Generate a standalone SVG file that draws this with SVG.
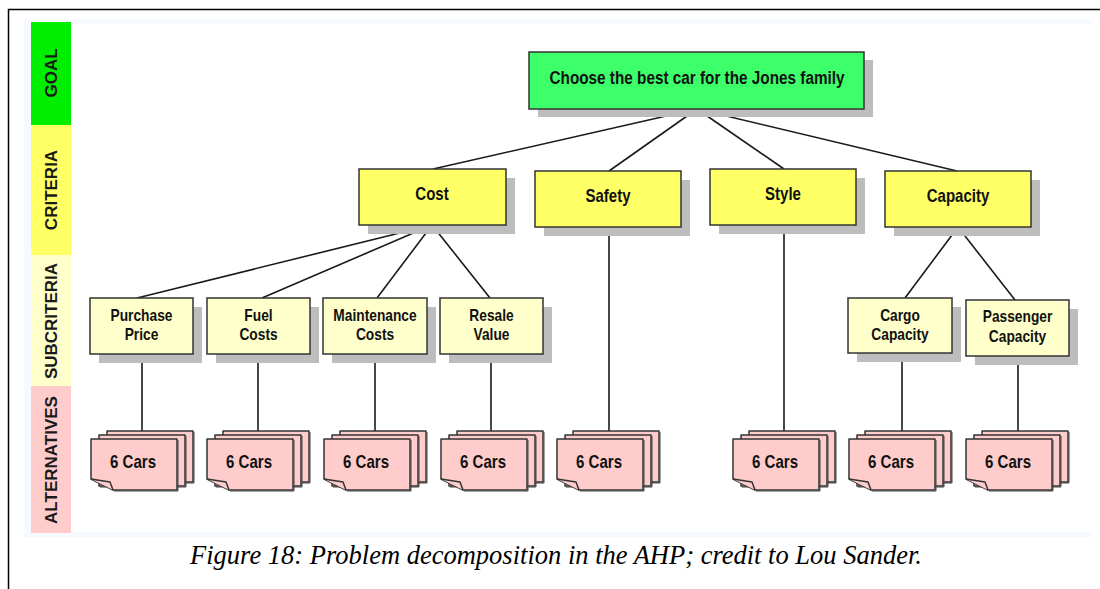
<svg xmlns="http://www.w3.org/2000/svg" xmlns:xlink="http://www.w3.org/1999/xlink" width="1100" height="589" viewBox="0 0 1100 589">
  <style>
    .band-label { font-family: "Liberation Sans", Arial, sans-serif; font-weight: bold; font-size: 17px; fill: #1a1a1a; text-anchor: middle; }
    .lbl { font-family: "Liberation Sans", Arial, sans-serif; font-weight: bold; fill: #111; text-anchor: middle; }
    .l17 { font-size: 17.5px; }
    .l16 { font-size: 16px; }
    .shadow { fill: #bdbdbd; }
    .box { stroke: #333; stroke-width: 1.5; }
    .goal { fill: #3cff6a; }
    .crit { fill: #ffff66; }
    .sub { fill: #ffffcc; }
    .card { fill: #ffcccc; stroke: #333; stroke-width: 1.5; stroke-linejoin: round; }
    .card-edge { fill: none; stroke: #444; stroke-width: 1; }
    .link { stroke: #1a1a1a; stroke-width: 1.6; fill: none; }
    .caption { font-family: "Liberation Serif", "Times New Roman", serif; font-style: italic; font-size: 27px; fill: #000; }
  </style>
  <defs>
    <!-- stack of three alternative cards; origin = top-left of the front card -->
    <g id="stack">
      <rect class="card" x="16" y="-8" width="86" height="51"/>
      <path class="card-edge" d="M103,-7 V44 H17"/>
      <rect class="card" x="8" y="-4" width="86" height="51"/>
      <path class="card-edge" d="M95,-3 V48 H9"/>
      <path class="card" d="M0,0 H86 V51 H22 L0,40 Z"/>
      <path class="card-edge" d="M87,1 V52 H23"/>
      <path class="card" d="M0,40 L19,43 L22,51"/>
    </g>
  </defs>

  <!-- page frame and panel -->
  <rect x="0" y="0" width="1100" height="589" fill="#fff"/>
  <path d="M8.5,589 V9.5 H1100" fill="none" stroke="#000" stroke-width="1.5"/>
  <rect x="24" y="19" width="1068" height="518" fill="#f6f9fd"/>
  <rect x="71" y="24" width="1021" height="508" fill="#fff"/>

  <!-- level bands -->
  <g id="bands">
    <rect x="31" y="22" width="40" height="103" fill="#00ee00"/>
    <rect x="31" y="125" width="40" height="130" fill="#ffff66"/>
    <rect x="31" y="255" width="40" height="131" fill="#ffffcc"/>
    <rect x="31" y="386" width="40" height="147" fill="#ffcccc"/>
    <text class="band-label" transform="translate(57 73) rotate(-90)">GOAL</text>
    <text class="band-label" transform="translate(57 190) rotate(-90)">CRITERIA</text>
    <text class="band-label" transform="translate(57 321) rotate(-90)">SUBCRITERIA</text>
    <text class="band-label" transform="translate(57 460) rotate(-90)">ALTERNATIVES</text>
  </g>

  <!-- connectors -->
  <g id="connectors">
    <line class="link" x1="697" y1="109" x2="433" y2="169"/>
    <line class="link" x1="697" y1="109" x2="609" y2="171"/>
    <line class="link" x1="697" y1="109" x2="784" y2="169"/>
    <line class="link" x1="697" y1="109" x2="957" y2="171"/>
    <line class="link" x1="432" y1="225" x2="137" y2="298"/>
    <line class="link" x1="432" y1="225" x2="262" y2="298"/>
    <line class="link" x1="432" y1="225" x2="377" y2="298"/>
    <line class="link" x1="432" y1="225" x2="490" y2="298"/>
    <line class="link" x1="958" y1="227" x2="905" y2="298"/>
    <line class="link" x1="958" y1="227" x2="1015" y2="300"/>
    <line class="link" x1="609" y1="227" x2="609" y2="431"/>
    <line class="link" x1="784" y1="225" x2="784" y2="431"/>
    <line class="link" x1="142" y1="354" x2="142" y2="431"/>
    <line class="link" x1="258" y1="354" x2="258" y2="431"/>
    <line class="link" x1="375" y1="354" x2="375" y2="431"/>
    <line class="link" x1="491" y1="354" x2="491" y2="431"/>
    <line class="link" x1="902" y1="353" x2="902" y2="431"/>
    <line class="link" x1="1018" y1="356" x2="1018" y2="431"/>
  </g>

  <!-- goal -->
  <g id="goal">
    <rect class="shadow" x="538" y="60" width="335" height="57"/>
    <rect class="box goal" x="529" y="52" width="335" height="57"/>
    <text class="lbl" x="697" y="84" font-size="18" textLength="295" lengthAdjust="spacingAndGlyphs">Choose the best car for the Jones family</text>
  </g>

  <!-- criteria -->
  <g id="crit-cost">
    <rect class="shadow" x="368" y="178" width="147" height="56"/>
    <rect class="box crit" x="359" y="169" width="147" height="56"/>
    <text class="lbl l17" transform="translate(432 200) scale(0.86 1)">Cost</text>
  </g>
  <g id="crit-safety">
    <rect class="shadow" x="544" y="180" width="146" height="56"/>
    <rect class="box crit" x="535" y="171" width="146" height="56"/>
    <text class="lbl l17" transform="translate(608 202) scale(0.86 1)">Safety</text>
  </g>
  <g id="crit-style">
    <rect class="shadow" x="719" y="178" width="146" height="56"/>
    <rect class="box crit" x="710" y="169" width="146" height="56"/>
    <text class="lbl l17" transform="translate(783 200) scale(0.86 1)">Style</text>
  </g>
  <g id="crit-capacity">
    <rect class="shadow" x="894" y="180" width="146" height="56"/>
    <rect class="box crit" x="885" y="171" width="146" height="56"/>
    <text class="lbl l17" transform="translate(958 202) scale(0.86 1)">Capacity</text>
  </g>

  <!-- subcriteria -->
  <g id="sub-purchase">
    <rect class="shadow" x="99" y="307" width="103" height="56"/>
    <rect class="box sub" x="90" y="298" width="103" height="56"/>
    <text class="lbl l16" transform="translate(141.5 321) scale(0.86 1)">Purchase</text>
    <text class="lbl l16" transform="translate(141.5 340) scale(0.86 1)">Price</text>
  </g>
  <g id="sub-fuel">
    <rect class="shadow" x="216" y="307" width="103" height="56"/>
    <rect class="box sub" x="207" y="298" width="103" height="56"/>
    <text class="lbl l16" transform="translate(258.5 321) scale(0.86 1)">Fuel</text>
    <text class="lbl l16" transform="translate(258.5 340) scale(0.86 1)">Costs</text>
  </g>
  <g id="sub-maintenance">
    <rect class="shadow" x="332" y="307" width="104" height="56"/>
    <rect class="box sub" x="323" y="298" width="104" height="56"/>
    <text class="lbl l16" transform="translate(375 321) scale(0.86 1)">Maintenance</text>
    <text class="lbl l16" transform="translate(375 340) scale(0.86 1)">Costs</text>
  </g>
  <g id="sub-resale">
    <rect class="shadow" x="449" y="307" width="103" height="56"/>
    <rect class="box sub" x="440" y="298" width="103" height="56"/>
    <text class="lbl l16" transform="translate(491.5 321) scale(0.86 1)">Resale</text>
    <text class="lbl l16" transform="translate(491.5 340) scale(0.86 1)">Value</text>
  </g>
  <g id="sub-cargo">
    <rect class="shadow" x="857" y="307" width="104" height="55"/>
    <rect class="box sub" x="848" y="298" width="104" height="55"/>
    <text class="lbl l16" transform="translate(900 321) scale(0.86 1)">Cargo</text>
    <text class="lbl l16" transform="translate(900 340) scale(0.86 1)">Capacity</text>
  </g>
  <g id="sub-passenger">
    <rect class="shadow" x="975" y="309" width="103" height="56"/>
    <rect class="box sub" x="966" y="300" width="103" height="56"/>
    <text class="lbl l16" transform="translate(1017.5 322) scale(0.86 1)">Passenger</text>
    <text class="lbl l16" transform="translate(1017.5 342) scale(0.86 1)">Capacity</text>
  </g>

  <!-- alternatives -->
  <g id="alt-purchase">
    <use xlink:href="#stack" href="#stack" x="91" y="439"/>
    <text class="lbl l17" transform="translate(133 468) scale(0.86 1)">6 Cars</text>
  </g>
  <g id="alt-fuel">
    <use xlink:href="#stack" href="#stack" x="207" y="439"/>
    <text class="lbl l17" transform="translate(249 468) scale(0.86 1)">6 Cars</text>
  </g>
  <g id="alt-maintenance">
    <use xlink:href="#stack" href="#stack" x="324" y="439"/>
    <text class="lbl l17" transform="translate(366 468) scale(0.86 1)">6 Cars</text>
  </g>
  <g id="alt-resale">
    <use xlink:href="#stack" href="#stack" x="441" y="439"/>
    <text class="lbl l17" transform="translate(483 468) scale(0.86 1)">6 Cars</text>
  </g>
  <g id="alt-safety">
    <use xlink:href="#stack" href="#stack" x="557" y="439"/>
    <text class="lbl l17" transform="translate(599 468) scale(0.86 1)">6 Cars</text>
  </g>
  <g id="alt-style">
    <use xlink:href="#stack" href="#stack" x="733" y="439"/>
    <text class="lbl l17" transform="translate(775 468) scale(0.86 1)">6 Cars</text>
  </g>
  <g id="alt-cargo">
    <use xlink:href="#stack" href="#stack" x="849" y="439"/>
    <text class="lbl l17" transform="translate(891 468) scale(0.86 1)">6 Cars</text>
  </g>
  <g id="alt-passenger">
    <use xlink:href="#stack" href="#stack" x="966" y="439"/>
    <text class="lbl l17" transform="translate(1008 468) scale(0.86 1)">6 Cars</text>
  </g>

  <!-- caption -->
  <text class="caption" x="190" y="564" textLength="732" lengthAdjust="spacingAndGlyphs">Figure 18: Problem decomposition in the AHP; credit to Lou Sander.</text>
</svg>
